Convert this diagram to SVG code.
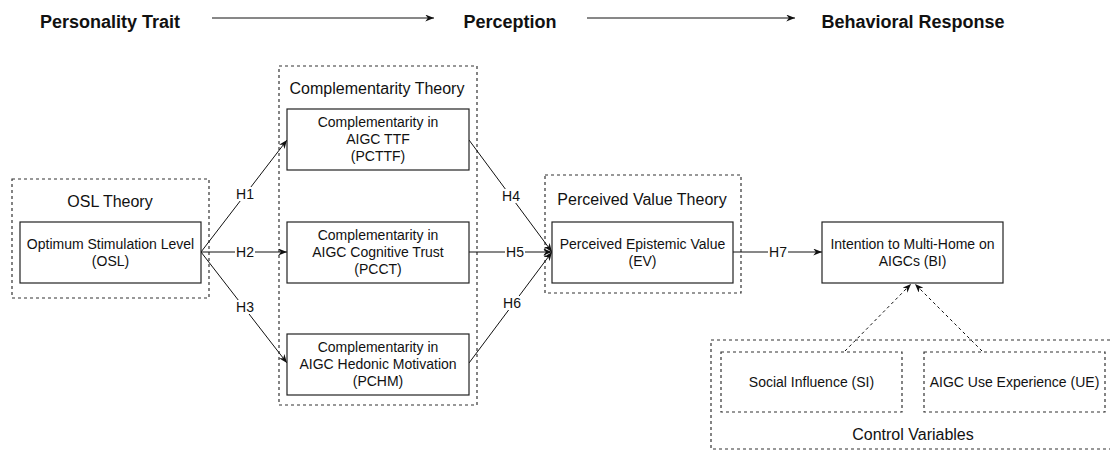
<svg xmlns="http://www.w3.org/2000/svg" width="1110" height="452" viewBox="0 0 1110 452">
<defs>
<marker id="arr" viewBox="0 0 10 8" refX="10" refY="4" markerWidth="9" markerHeight="7" orient="auto" markerUnits="userSpaceOnUse">
<path d="M0,0 L10,4 L0,8 L3,4 Z" fill="#111"/>
</marker>
<style>
text{font-family:"Liberation Sans",Arial,Helvetica,sans-serif;fill:#111;text-anchor:middle}
.hdr{font-size:18px;font-weight:bold}
.th{font-size:16px}
.nt{font-size:14px}
.hl{font-size:14px}
.node{fill:#fff;stroke:#222;stroke-width:1.2}
.grp{fill:none;stroke:#333;stroke-width:1.2;stroke-dasharray:3 3}
.dnode{fill:none;stroke:#333;stroke-width:1.2;stroke-dasharray:3 3}
.edge{fill:none;stroke:#111;stroke-width:1}
.dedge{fill:none;stroke:#111;stroke-width:1;stroke-dasharray:3 3}
.lbg{fill:#fff}
</style>
</defs>
<rect width="1110" height="452" fill="#fff"/>

<g id="header">
<text class="hdr" x="110" y="28">Personality Trait</text>
<line class="edge" x1="212" y1="18" x2="434" y2="18" marker-end="url(#arr)"/>
<text class="hdr" x="510" y="28">Perception</text>
<line class="edge" x1="587" y1="18" x2="795" y2="18" marker-end="url(#arr)"/>
<text class="hdr" x="913" y="28">Behavioral Response</text>
</g>

<g id="group-osl">
<rect class="grp" x="12" y="179" width="197" height="119"/>
<text class="th" x="110" y="207">OSL Theory</text>
</g>
<g id="group-comp">
<rect class="grp" x="279" y="66" width="198" height="339"/>
<text class="th" x="377" y="94">Complementarity Theory</text>
</g>
<g id="group-pv">
<rect class="grp" x="545" y="175" width="196" height="118"/>
<text class="th" x="642" y="205">Perceived Value Theory</text>
</g>
<g id="group-control">
<rect class="grp" x="711" y="340" width="410" height="109"/>
<text class="th" x="913" y="440">Control Variables</text>
</g>

<g id="connectors">
<line class="edge" x1="201" y1="252" x2="287" y2="140" marker-end="url(#arr)"/>
<line class="edge" x1="201" y1="252" x2="287" y2="252" marker-end="url(#arr)"/>
<line class="edge" x1="201" y1="252" x2="287" y2="363" marker-end="url(#arr)"/>
<line class="edge" x1="469" y1="140" x2="552" y2="252" marker-end="url(#arr)"/>
<line class="edge" x1="469" y1="252" x2="552" y2="252" marker-end="url(#arr)"/>
<line class="edge" x1="469" y1="363" x2="552" y2="252" marker-end="url(#arr)"/>
<line class="edge" x1="733" y1="252" x2="822" y2="252" marker-end="url(#arr)"/>
<line class="dedge" x1="845" y1="351" x2="911" y2="284" marker-end="url(#arr)"/>
<line class="dedge" x1="982" y1="351" x2="915" y2="284" marker-end="url(#arr)"/>
<rect class="lbg" x="235" y="187" width="20" height="14"/>
<text class="hl" x="245" y="199">H1</text>
<rect class="lbg" x="235" y="245" width="20" height="14"/>
<text class="hl" x="245" y="257">H2</text>
<rect class="lbg" x="235" y="300" width="20" height="14"/>
<text class="hl" x="245" y="312">H3</text>
<rect class="lbg" x="501" y="189" width="20" height="14"/>
<text class="hl" x="511" y="201">H4</text>
<rect class="lbg" x="505" y="245" width="20" height="14"/>
<text class="hl" x="515" y="257">H5</text>
<rect class="lbg" x="502" y="296" width="20" height="14"/>
<text class="hl" x="512" y="308">H6</text>
<rect class="lbg" x="768" y="245" width="20" height="14"/>
<text class="hl" x="778" y="257">H7</text>
</g>

<g id="node-osl">
<rect class="node" x="20" y="222" width="181" height="61"/>
<text class="nt" x="110.5" y="249">Optimum Stimulation Level</text>
<text class="nt" x="110.5" y="266">(OSL)</text>
</g>
<g id="node-pcttf">
<rect class="node" x="287" y="109" width="182" height="61"/>
<text class="nt" x="378" y="127">Complementarity in</text>
<text class="nt" x="378" y="144">AIGC TTF</text>
<text class="nt" x="378" y="161">(PCTTF)</text>
</g>
<g id="node-pcct">
<rect class="node" x="287" y="222" width="182" height="61"/>
<text class="nt" x="378" y="240">Complementarity in</text>
<text class="nt" x="378" y="257">AIGC Cognitive Trust</text>
<text class="nt" x="378" y="274">(PCCT)</text>
</g>
<g id="node-pchm">
<rect class="node" x="287" y="334" width="182" height="61"/>
<text class="nt" x="378" y="352">Complementarity in</text>
<text class="nt" x="378" y="369">AIGC Hedonic Motivation</text>
<text class="nt" x="378" y="386">(PCHM)</text>
</g>
<g id="node-ev">
<rect class="node" x="552" y="222" width="181" height="61"/>
<text class="nt" x="642.5" y="249">Perceived Epistemic Value</text>
<text class="nt" x="642.5" y="266">(EV)</text>
</g>
<g id="node-bi">
<rect class="node" x="822" y="222" width="181" height="61"/>
<text class="nt" x="912.5" y="249">Intention to Multi-Home on</text>
<text class="nt" x="912.5" y="266">AIGCs (BI)</text>
</g>
<g id="node-si">
<rect class="dnode" x="721" y="352" width="181" height="60"/>
<text class="nt" x="811.5" y="387">Social Influence (SI)</text>
</g>
<g id="node-ue">
<rect class="dnode" x="924" y="352" width="181" height="60"/>
<text class="nt" x="1014.5" y="387">AIGC Use Experience (UE)</text>
</g>
</svg>
